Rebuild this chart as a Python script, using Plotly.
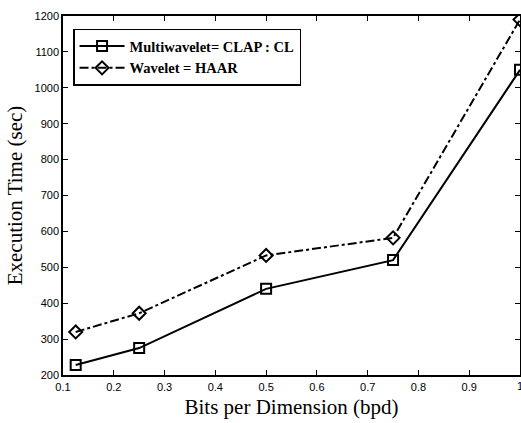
import plotly.graph_objects as go

bpd = [0.125, 0.25, 0.5, 0.75, 1.0]
multiwavelet = [228, 275, 440, 520, 1050]
wavelet = [320, 372, 533, 582, 1190]
x_ticks = [0.1, 0.2, 0.3, 0.4, 0.5, 0.6, 0.7, 0.8, 0.9, 1.0]
x_tick_labels = ["0.1", "0.2", "0.3", "0.4", "0.5", "0.6", "0.7", "0.8", "0.9", "1"]
y_ticks = [200, 300, 400, 500, 600, 700, 800, 900, 1000, 1100, 1200]

fig = go.Figure()
fig.add_trace(go.Scatter(
    x=bpd, y=multiwavelet, mode="lines+markers",
    name="<b>Multiwavelet= CLAP : CL</b>",
    line=dict(color="black", width=2, dash="solid"),
    marker=dict(symbol="square-open", size=10, color="black", line=dict(width=2)),
))
fig.add_trace(go.Scatter(
    x=bpd, y=wavelet, mode="lines+markers",
    name="<b>Wavelet = HAAR</b>",
    line=dict(color="black", width=2, dash="dashdot"),
    marker=dict(symbol="diamond-open", size=10, color="black", line=dict(width=2)),
))

axis_common = dict(
    showline=True, linecolor="black", linewidth=1.5, mirror="ticks",
    ticks="inside", ticklen=5, tickwidth=1, tickcolor="black",
    showgrid=False, zeroline=False, automargin=False,
    tickfont=dict(family="Liberation Sans, Arial", size=11, color="black"),
)

fig.update_layout(
    width=521, height=423,
    margin=dict(l=63, r=1, t=16, b=48),
    paper_bgcolor="white", plot_bgcolor="white",
    xaxis=dict(range=[0.1, 1.0], tickvals=x_ticks, ticktext=x_tick_labels,
               ticklabelstandoff=1,
               title=dict(text="Bits per Dimension (bpd)", standoff=7,
                          font=dict(family="Liberation Serif, Times New Roman", size=21, color="black")),
               **axis_common),
    yaxis=dict(range=[200, 1200], tickvals=y_ticks,
               ticklabelstandoff=0,
               title=dict(text="Execution Time (sec)", standoff=6,
                          font=dict(family="Liberation Serif, Times New Roman", size=21, color="black")),
               **axis_common),
    legend=dict(x=0.022, y=0.965, xanchor="left", yanchor="top",
                bordercolor="black", borderwidth=1.5, bgcolor="white",
                font=dict(family="Liberation Serif, Times New Roman", size=14.5, color="black"),
                itemwidth=45),
    showlegend=True,
)

# the last x tick label ("1") sits on the right paper edge and is partly cut, as in the reference
fig.add_annotation(x=x_ticks[-1], y=0, xref="x", yref="paper", text=x_tick_labels[-1],
                   showarrow=False, yanchor="top", yshift=-3,
                   font=dict(family="Liberation Sans, Arial", size=11, color="black"))

fig.write_html("out.html",
               config={"displayModeBar": False},
               post_script="document.body.style.margin='0';document.body.style.overflow='hidden';")
